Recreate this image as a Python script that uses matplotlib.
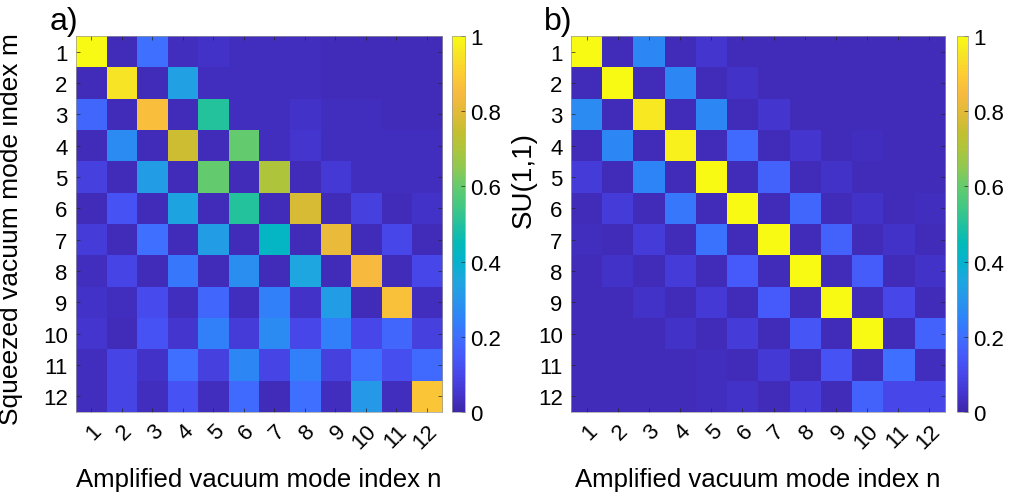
import numpy as np
import matplotlib
matplotlib.use('Agg')
import matplotlib.pyplot as plt
from matplotlib.colors import LinearSegmentedColormap

plt.rcParams['font.family'] = ['Liberation Sans', 'DejaVu Sans']

# mode indices
modes = [str(i) for i in range(1, 13)]
cbar_ticks = [0, 0.2, 0.4, 0.6, 0.8, 1]
cbar_labels = ['0', '0.2', '0.4', '0.6', '0.8', '1']

# panel a) : squeezed vacuum modes vs amplified vacuum modes
overlap_a = np.array([
    [1.00, 0.02, 0.20, 0.03, 0.04, 0.03, 0.03, 0.03, 0.02, 0.02, 0.02, 0.02],
    [0.02, 0.95, 0.02, 0.33, 0.03, 0.03, 0.03, 0.03, 0.02, 0.02, 0.02, 0.02],
    [0.18, 0.02, 0.86, 0.02, 0.50, 0.03, 0.03, 0.04, 0.03, 0.03, 0.02, 0.02],
    [0.02, 0.27, 0.02, 0.76, 0.02, 0.60, 0.03, 0.05, 0.03, 0.03, 0.03, 0.03],
    [0.08, 0.02, 0.32, 0.02, 0.60, 0.02, 0.70, 0.02, 0.06, 0.03, 0.03, 0.03],
    [0.02, 0.13, 0.02, 0.34, 0.02, 0.50, 0.02, 0.78, 0.02, 0.08, 0.02, 0.04],
    [0.07, 0.02, 0.20, 0.02, 0.32, 0.02, 0.42, 0.02, 0.82, 0.02, 0.10, 0.02],
    [0.03, 0.09, 0.02, 0.22, 0.02, 0.28, 0.02, 0.35, 0.02, 0.85, 0.02, 0.10],
    [0.04, 0.03, 0.11, 0.03, 0.18, 0.03, 0.24, 0.04, 0.32, 0.02, 0.87, 0.03],
    [0.05, 0.02, 0.13, 0.05, 0.24, 0.07, 0.27, 0.10, 0.24, 0.10, 0.18, 0.08],
    [0.03, 0.09, 0.04, 0.20, 0.08, 0.26, 0.09, 0.24, 0.08, 0.20, 0.12, 0.19],
    [0.03, 0.09, 0.03, 0.13, 0.03, 0.19, 0.02, 0.20, 0.03, 0.31, 0.03, 0.88],
])

# panel b) : SU(1,1) modes vs amplified vacuum modes
overlap_b = np.array([
    [1.00, 0.02, 0.26, 0.02, 0.05, 0.02, 0.02, 0.02, 0.02, 0.02, 0.02, 0.02],
    [0.02, 1.00, 0.02, 0.26, 0.02, 0.04, 0.02, 0.02, 0.02, 0.02, 0.02, 0.02],
    [0.27, 0.02, 0.96, 0.02, 0.26, 0.02, 0.05, 0.02, 0.02, 0.02, 0.02, 0.02],
    [0.02, 0.26, 0.02, 0.98, 0.02, 0.19, 0.02, 0.05, 0.02, 0.03, 0.02, 0.02],
    [0.07, 0.02, 0.25, 0.02, 1.00, 0.02, 0.17, 0.02, 0.04, 0.02, 0.02, 0.02],
    [0.02, 0.07, 0.02, 0.22, 0.02, 1.00, 0.02, 0.18, 0.02, 0.04, 0.02, 0.03],
    [0.03, 0.02, 0.07, 0.02, 0.21, 0.02, 1.00, 0.02, 0.17, 0.02, 0.04, 0.02],
    [0.02, 0.04, 0.02, 0.07, 0.02, 0.15, 0.02, 1.00, 0.02, 0.16, 0.02, 0.04],
    [0.02, 0.02, 0.04, 0.02, 0.06, 0.02, 0.15, 0.02, 1.00, 0.02, 0.10, 0.02],
    [0.02, 0.02, 0.02, 0.04, 0.02, 0.07, 0.02, 0.14, 0.02, 1.00, 0.02, 0.17],
    [0.02, 0.02, 0.02, 0.02, 0.03, 0.02, 0.06, 0.02, 0.13, 0.02, 0.20, 0.03],
    [0.02, 0.02, 0.02, 0.02, 0.03, 0.04, 0.02, 0.07, 0.02, 0.17, 0.10, 0.10],
])

# approximation of matlab parula
parula = LinearSegmentedColormap.from_list('parula', [
    (0.00, (0.2422, 0.1504, 0.6603)),
    (0.05, (0.2691, 0.2120, 0.8172)),
    (0.10, (0.2810, 0.2816, 0.9201)),
    (0.15, (0.2760, 0.3520, 0.9817)),
    (0.20, (0.2440, 0.4358, 0.9988)),
    (0.25, (0.1805, 0.5168, 0.9725)),
    (0.30, (0.1540, 0.5902, 0.9218)),
    (0.35, (0.1137, 0.6539, 0.8752)),
    (0.40, (0.0228, 0.6999, 0.8035)),
    (0.45, (0.0145, 0.7302, 0.7195)),
    (0.50, (0.1358, 0.7581, 0.6177)),
    (0.55, (0.2645, 0.7862, 0.5073)),
    (0.60, (0.3900, 0.7950, 0.4300)),
    (0.65, (0.5600, 0.7878, 0.3200)),
    (0.70, (0.6800, 0.7700, 0.2300)),
    (0.75, (0.7800, 0.7450, 0.1900)),
    (0.80, (0.8900, 0.7300, 0.2200)),
    (0.85, (0.9700, 0.7300, 0.2500)),
    (0.90, (0.9917, 0.8000, 0.1999)),
    (0.95, (0.9700, 0.8900, 0.1500)),
    (1.00, (0.9769, 0.9839, 0.0805)),
], N=256)

fig = plt.figure(figsize=(10.12, 5.02), dpi=100)

panels = [
    (overlap_a, [0.0751, 0.1773, 0.3617, 0.749], [0.4466, 0.1773, 0.0128, 0.749],
     'Squeezed vacuum mode index m', 'a)', (-0.145, 0.49), 19),
    (overlap_b, [0.5642, 0.1773, 0.3696, 0.749], [0.9457, 0.1773, 0.0109, 0.749],
     'SU(1,1)', 'b)', (-0.091, 0.62), 20),
]

for data, pos, cpos, ylab, tag, lab_xy, lab_fs in panels:
    ax = fig.add_axes(pos)
    im = ax.imshow(data, cmap=parula, vmin=0, vmax=1, aspect='auto',
                   interpolation='nearest')
    ax.set_xticks(range(12))
    ax.set_yticks(range(12))
    ax.set_xticklabels(modes, rotation=45, ha='right', va='top',
                       rotation_mode='anchor', fontsize=16)
    ax.set_yticklabels(modes, fontsize=16)
    ax.tick_params(direction='in', length=3, width=0.5, color='0.15',
                   top=True, right=True, pad=6)
    for s in ax.spines.values():
        s.set_linewidth(0.5)
        s.set_color('0.6')
    ax.set_xlabel('Amplified vacuum mode index n', fontsize=18.5, labelpad=10)
    ax.set_ylabel(ylab, fontsize=lab_fs)
    ax.yaxis.set_label_coords(*lab_xy)
    ax.text(-0.071, 1.0, tag, transform=ax.transAxes, fontsize=23,
            ha='left', va='bottom')

    cax = fig.add_axes(cpos)
    cb = fig.colorbar(im, cax=cax, ticks=cbar_ticks)
    cb.ax.set_yticklabels(cbar_labels, fontsize=16)
    cb.ax.tick_params(direction='in', length=3, width=0.5, color='0.15')
    cb.outline.set_linewidth(0.5)
    cb.outline.set_edgecolor('0.6')

fig.savefig('out.png', dpi=100)
